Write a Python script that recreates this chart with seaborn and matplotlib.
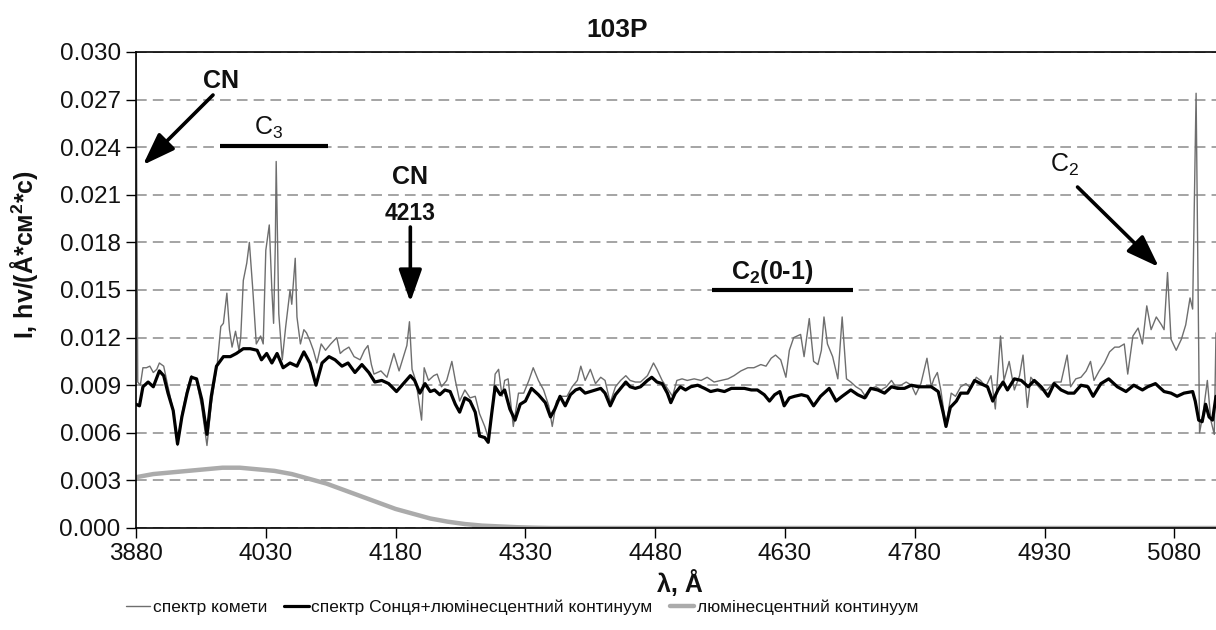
import matplotlib
matplotlib.use("Agg")
import matplotlib.pyplot as plt
import seaborn as sns
import pandas as pd
from matplotlib import font_manager as fm
from matplotlib.lines import Line2D

# ---------------- data ----------------
comet_wl = [3880, 3882, 3885, 3888, 3892, 3896, 3900, 3904, 3907, 3912, 3917, 3923, 3928, 3933,
            3939, 3944, 3950, 3956, 3962, 3967, 3974, 3978, 3981, 3985, 3988, 3991, 3995, 3999,
            4001, 4004, 4008, 4011, 4015, 4019, 4024, 4027, 4030, 4034, 4037, 4039, 4041, 4042,
            4045, 4049, 4053, 4058, 4060, 4064, 4066, 4070, 4074, 4077, 4081, 4085, 4089, 4094,
            4099, 4105, 4112, 4116, 4120, 4126, 4132, 4139, 4144, 4148, 4152, 4155, 4163, 4170,
            4178, 4184, 4189, 4193, 4196, 4199, 4202, 4205, 4210, 4213, 4218, 4224, 4228, 4233,
            4239, 4245, 4249, 4254, 4260, 4266, 4272, 4277, 4283, 4287, 4292, 4295, 4299, 4303,
            4306, 4310, 4316, 4322, 4328, 4334, 4339, 4345, 4351, 4357, 4361, 4366, 4372, 4378,
            4384, 4390, 4394, 4399, 4405, 4411, 4417, 4422, 4428, 4434, 4440, 4446, 4451, 4457,
            4463, 4471, 4478, 4482, 4488, 4494, 4500, 4505, 4511, 4517, 4525, 4533, 4540, 4548,
            4556, 4564, 4571, 4579, 4587, 4594, 4602, 4608, 4614, 4619, 4625, 4631, 4635, 4640,
            4644, 4648, 4652, 4658, 4663, 4668, 4672, 4675, 4679, 4685, 4691, 4696, 4701, 4706,
            4712, 4718, 4724, 4729, 4735, 4741, 4747, 4753, 4758, 4764, 4770, 4776, 4781, 4787,
            4794, 4799, 4802, 4806, 4810, 4816, 4822, 4827, 4833, 4839, 4845, 4851, 4856, 4862,
            4868, 4873, 4879, 4883, 4889, 4895, 4901, 4905, 4910, 4914, 4920, 4926, 4933, 4941,
            4949, 4956, 4960, 4966, 4972, 4978, 4983, 4987, 4993, 4999, 5005, 5011, 5016, 5022,
            5026, 5032, 5038, 5043, 5048, 5053, 5059, 5065, 5068, 5072, 5076, 5082, 5088, 5093,
            5098, 5101, 5105, 5109, 5113, 5118, 5122, 5126, 5128]
comet_flux = [0.0305, 0.0092, 0.0090, 0.0101, 0.0101, 0.0102, 0.0098, 0.0100, 0.0104, 0.0102,
              0.0089, 0.0074, 0.0052, 0.0072, 0.0087, 0.0096, 0.0093, 0.0076, 0.0052, 0.0078,
              0.0104, 0.0127, 0.0129, 0.0148, 0.0125, 0.0114, 0.0124, 0.0112, 0.0120, 0.0156,
              0.0167, 0.0180, 0.0150, 0.0116, 0.0121, 0.0116, 0.0175, 0.0191, 0.0150, 0.0129,
              0.0179, 0.0231, 0.0135, 0.0106, 0.0127, 0.0150, 0.0141, 0.0170, 0.0133, 0.0116,
              0.0125, 0.0123, 0.0118, 0.0112, 0.0104, 0.0116, 0.0112, 0.0116, 0.0120, 0.0110,
              0.0112, 0.0114, 0.0108, 0.0106, 0.0112, 0.0115, 0.0103, 0.0097, 0.0099, 0.0095,
              0.0110, 0.0099, 0.0108, 0.0115, 0.0130, 0.0100, 0.0095, 0.0087, 0.0068, 0.0101,
              0.0093, 0.0096, 0.0097, 0.0089, 0.0093, 0.0105, 0.0093, 0.0080, 0.0087, 0.0082,
              0.0083, 0.0072, 0.0064, 0.0057, 0.0076, 0.0097, 0.0100, 0.0083, 0.0093, 0.0094,
              0.0064, 0.0085, 0.0085, 0.0093, 0.0101, 0.0093, 0.0087, 0.0077, 0.0064, 0.0080,
              0.0083, 0.0083, 0.0089, 0.0093, 0.0102, 0.0093, 0.0100, 0.0091, 0.0095, 0.0093,
              0.0079, 0.0089, 0.0093, 0.0096, 0.0093, 0.0092, 0.0092, 0.0096, 0.0104, 0.0100,
              0.0093, 0.0088, 0.0083, 0.0093, 0.0094, 0.0093, 0.0094, 0.0093, 0.0095, 0.0092,
              0.0093, 0.0094, 0.0096, 0.0099, 0.0101, 0.0101, 0.0103, 0.0102, 0.0107, 0.0109,
              0.0106, 0.0095, 0.0112, 0.0120, 0.0121, 0.0122, 0.0108, 0.0132, 0.0105, 0.0103,
              0.0112, 0.0133, 0.0116, 0.0108, 0.0094, 0.0133, 0.0094, 0.0092, 0.0089, 0.0087,
              0.0082, 0.0088, 0.0089, 0.0087, 0.0089, 0.0093, 0.0089, 0.0090, 0.0092, 0.0090,
              0.0084, 0.0091, 0.0107, 0.0089, 0.0094, 0.0098, 0.0087, 0.0064, 0.0085, 0.0083,
              0.0089, 0.0091, 0.0088, 0.0095, 0.0093, 0.0089, 0.0096, 0.0075, 0.0121, 0.0093,
              0.0105, 0.0087, 0.0096, 0.0109, 0.0076, 0.0095, 0.0091, 0.0087, 0.0087, 0.0092,
              0.0092, 0.0109, 0.0089, 0.0094, 0.0095, 0.0099, 0.0105, 0.0093, 0.0099, 0.0104,
              0.0111, 0.0114, 0.0114, 0.0116, 0.0097, 0.0121, 0.0126, 0.0116, 0.0140, 0.0125,
              0.0133, 0.0128, 0.0125, 0.0161, 0.0119, 0.0112, 0.0119, 0.0128, 0.0145, 0.0138,
              0.0274, 0.0060, 0.0072, 0.0093, 0.0068, 0.0059, 0.0123]

sun_wl = [3880, 3884, 3888, 3894, 3900, 3907, 3912, 3917, 3923, 3928, 3933, 3939, 3944, 3950,
          3956, 3962, 3967, 3973, 3981, 3989, 3996, 4004, 4012, 4020, 4025, 4031, 4037, 4043,
          4050, 4058, 4066, 4074, 4081, 4088, 4095, 4103, 4110, 4118, 4125, 4133, 4141, 4149,
          4156, 4164, 4172, 4181, 4189, 4197, 4202, 4208, 4214, 4220, 4225, 4231, 4237, 4243,
          4249, 4254, 4260, 4266, 4272, 4277, 4283, 4287, 4291, 4295, 4301, 4306, 4312, 4318,
          4324, 4330, 4337, 4345, 4353, 4359, 4364, 4370, 4376, 4382, 4388, 4393, 4399, 4405,
          4411, 4417, 4422, 4428, 4434, 4440, 4446, 4451, 4457, 4463, 4471, 4476, 4482, 4488,
          4494, 4498, 4503, 4509, 4515, 4521, 4529, 4537, 4544, 4552, 4560, 4568, 4575, 4583,
          4591, 4598, 4606, 4612, 4618, 4624, 4629, 4635, 4641, 4649, 4656, 4663, 4671, 4681,
          4689, 4696, 4706, 4714, 4722, 4729, 4737, 4745, 4753, 4760, 4768, 4776, 4784, 4791,
          4799, 4807, 4813, 4816, 4821, 4828, 4833, 4841, 4849, 4856, 4864, 4870, 4876, 4882,
          4887, 4895, 4903, 4911, 4918, 4926, 4934, 4941, 4949, 4957, 4964, 4972, 4980, 4986,
          4995, 5004, 5014, 5024, 5033, 5043, 5049, 5058, 5068, 5076, 5083, 5091, 5101, 5104,
          5108, 5112, 5116, 5120, 5124, 5128]
sun_flux = [0.0078, 0.0077, 0.0089, 0.0092, 0.0089, 0.0099, 0.0096, 0.0085, 0.0074, 0.0053,
            0.0070, 0.0085, 0.0095, 0.0094, 0.0081, 0.0059, 0.0083, 0.0102, 0.0108, 0.0108,
            0.0110, 0.0113, 0.0113, 0.0112, 0.0106, 0.0110, 0.0104, 0.0110, 0.0101, 0.0104,
            0.0102, 0.0111, 0.0104, 0.0090, 0.0104, 0.0108, 0.0106, 0.0102, 0.0104, 0.0098,
            0.0103, 0.0098, 0.0092, 0.0093, 0.0091, 0.0086, 0.0091, 0.0096, 0.0093, 0.0085,
            0.0091, 0.0086, 0.0087, 0.0084, 0.0087, 0.0086, 0.0078, 0.0073, 0.0082, 0.0080,
            0.0073, 0.0058, 0.0057, 0.0054, 0.0072, 0.0089, 0.0084, 0.0087, 0.0075, 0.0068,
            0.0078, 0.0080, 0.0088, 0.0084, 0.0079, 0.0070, 0.0075, 0.0083, 0.0077, 0.0084,
            0.0087, 0.0088, 0.0085, 0.0086, 0.0087, 0.0088, 0.0085, 0.0077, 0.0084, 0.0088,
            0.0092, 0.0089, 0.0088, 0.0089, 0.0093, 0.0095, 0.0092, 0.0091, 0.0085, 0.0079,
            0.0085, 0.0089, 0.0087, 0.0089, 0.0090, 0.0088, 0.0086, 0.0087, 0.0086, 0.0088,
            0.0088, 0.0088, 0.0087, 0.0087, 0.0084, 0.0080, 0.0084, 0.0086, 0.0077, 0.0082,
            0.0083, 0.0084, 0.0083, 0.0077, 0.0083, 0.0088, 0.0080, 0.0083, 0.0087, 0.0084,
            0.0082, 0.0088, 0.0087, 0.0085, 0.0089, 0.0088, 0.0088, 0.0090, 0.0089, 0.0089,
            0.0089, 0.0086, 0.0072, 0.0064, 0.0076, 0.0080, 0.0085, 0.0085, 0.0093, 0.0091,
            0.0089, 0.0080, 0.0087, 0.0092, 0.0087, 0.0094, 0.0093, 0.0089, 0.0093, 0.0089,
            0.0083, 0.0091, 0.0087, 0.0085, 0.0085, 0.0090, 0.0089, 0.0083, 0.0091, 0.0094,
            0.0089, 0.0086, 0.0090, 0.0087, 0.0089, 0.0091, 0.0086, 0.0085, 0.0083, 0.0085,
            0.0086, 0.0080, 0.0068, 0.0067, 0.0078, 0.0070, 0.0068, 0.0083]

lum_wl = [3880, 3900, 3920, 3940, 3960, 3980, 4000, 4020, 4040, 4060, 4080, 4100, 4120, 4140,
          4160, 4180, 4200, 4220, 4240, 4260, 4280, 4300, 4320, 4340, 4360, 4400, 5128]
lum_flux = [0.0032, 0.0034, 0.0035, 0.0036, 0.0037, 0.0038, 0.0038, 0.0037, 0.0036, 0.0034,
            0.0031, 0.0028, 0.0024, 0.0020, 0.0016, 0.0012, 0.0009, 0.0006, 0.0004, 0.00025,
            0.00015, 0.0001, 0.00005, 0.00002, 0.0, 0.0, 0.0]

x_ticks = [3880, 4030, 4180, 4330, 4480, 4630, 4780, 4930, 5080]
y_ticks = [0.000, 0.003, 0.006, 0.009, 0.012, 0.015, 0.018, 0.021, 0.024, 0.027, 0.030]

title = "103P"
x_label = "λ, Å"
y_label = "I, hv/(Å*см$^\\mathregular{2}$*с)"
series_labels = ["спектр комети", "спектр Сонця+люмінесцентний континуум",
                 "люмінесцентний континуум"]

# ---------------- style ----------------
sns.set_theme(style="white")
plt.rcParams["font.family"] = ["Liberation Sans", "DejaVu Sans"]
plt.rcParams["mathtext.fontset"] = "custom"
plt.rcParams["mathtext.rm"] = "Liberation Sans"
plt.rcParams["mathtext.it"] = "Liberation Sans:italic"
plt.rcParams["mathtext.bf"] = "Liberation Sans:bold"
plt.rcParams["text.color"] = "#111111"

names = {f.name for f in fm.fontManager.ttflist}
if "Liberation Sans Narrow" in names:
    leg_prop = fm.FontProperties(family=["Liberation Sans Narrow", "DejaVu Sans"], size=15)
else:
    leg_prop = fm.FontProperties(family=["Liberation Sans", "DejaVu Sans"], size=12.5)

W, H = 1216, 630
fig = plt.figure(figsize=(W / 100, H / 100), dpi=100)
ax = fig.add_axes([136 / W, 1 - 528 / H, 1 - 136 / W, (528 - 52) / H])

C_COMET = "#6e6e6e"
C_SUN = "#000000"
C_LUM = "#ababab"

df_c = pd.DataFrame({"wl": comet_wl, "f": comet_flux})
df_s = pd.DataFrame({"wl": sun_wl, "f": sun_flux})
df_l = pd.DataFrame({"wl": lum_wl, "f": lum_flux})

sns.lineplot(data=df_c, x="wl", y="f", ax=ax, color=C_COMET, lw=1.0,
             estimator=None, sort=False, legend=False)
sns.lineplot(data=df_s, x="wl", y="f", ax=ax, color=C_SUN, lw=2.3,
             estimator=None, sort=False, legend=False)
sns.lineplot(data=df_l, x="wl", y="f", ax=ax, color=C_LUM, lw=3.2,
             estimator=None, sort=False, legend=False)

ax.set_xlim(3880, 5128)
ax.set_ylim(0, 0.030)
ax.set_xticks(x_ticks)
ax.set_yticks(y_ticks)
ax.set_yticklabels([f"{v:.3f}" for v in y_ticks])
ax.set_xticklabels([str(v) for v in x_ticks])
ax.set_xlabel("")
ax.set_ylabel("")
ax.tick_params(axis="both", which="both", bottom=True, left=True, direction="out",
               length=7, width=1.0, color="black", labelsize=17.5, pad=4,
               labelcolor="#111111")
ax.yaxis.grid(True, color="#8c8c8c", linestyle=(0, (7, 4)), linewidth=1.1)
ax.xaxis.grid(False)
ax.set_axisbelow(True)
for side in ["left", "bottom", "top"]:
    ax.spines[side].set_visible(True)
    ax.spines[side].set_color("black")
    ax.spines[side].set_linewidth(1.2)
ax.spines["right"].set_visible(False)

# ---------------- titles ----------------
fig.text(617 / W, 1 - 30 / H, title, ha="center", va="center", fontsize=19,
         fontweight="bold")
fig.text(680 / W, 1 - 584 / H, x_label, ha="center", va="center", fontsize=18,
         fontweight="bold")
fig.text(24 / W, 1 - 255 / H, y_label, ha="center", va="center", rotation=90,
         fontsize=18, fontweight="bold")

# ---------------- annotations ----------------
arrow_kw = dict(arrowstyle="-|>,head_length=0.9,head_width=0.32", lw=2.6,
                color="black", shrinkA=0, shrinkB=0, mutation_scale=22)

ax.text(3978, 0.02817, "CN", ha="center", va="center", fontsize=18, fontweight="bold")
ax.annotate("", xy=(3888, 0.02288), xytext=(3969, 0.02729), arrowprops=arrow_kw)

ax.text(4033, 0.02521, "C$_\\mathregular{3}$", ha="center", va="center", fontsize=18)
ax.plot([3977, 4102], [0.02408, 0.02408], color="black", lw=3, solid_capstyle="butt")

ax.text(4197, 0.02212, "CN", ha="center", va="center", fontsize=18, fontweight="bold")
ax.text(4197, 0.01979, "4213", ha="center", va="center", fontsize=16.5, fontweight="bold")
ax.annotate("", xy=(4197, 0.01424), xytext=(4197, 0.01897), arrowprops=arrow_kw)

ax.text(4615, 0.01613, "$\\mathbf{C_2}$(0-1)", ha="center", va="center",
        fontsize=18, fontweight="bold")
ax.plot([4546, 4708], [0.0150, 0.0150], color="black", lw=3, solid_capstyle="butt")

ax.text(4953, 0.02288, "C$_\\mathregular{2}$", ha="center", va="center", fontsize=18)
ax.annotate("", xy=(5062, 0.01645), xytext=(4968, 0.02149), arrowprops=arrow_kw)

# ---------------- legend ----------------
handles = [Line2D([], [], color=C_COMET, lw=1.0),
           Line2D([], [], color=C_SUN, lw=2.3),
           Line2D([], [], color=C_LUM, lw=3.2)]
fig.legend(handles, series_labels, loc="center", bbox_to_anchor=(522 / W, 1 - 607 / H),
           ncol=3, frameon=False, handlelength=1.4, handletextpad=0.15,
           columnspacing=1.0, prop=leg_prop, labelcolor="#111111")

fig.savefig("out.png", dpi=100)
